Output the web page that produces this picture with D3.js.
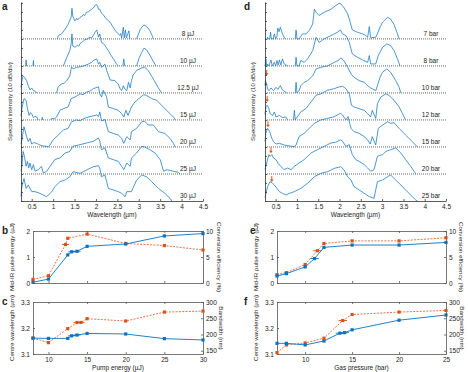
<!DOCTYPE html>
<html>
<head>
<meta charset="utf-8">
<script src="https://cdn.jsdelivr.net/npm/d3@7"></script>
<style>
  body { margin: 0; background: #fff; }
  text { font-family: "Liberation Sans", Arial, sans-serif; fill: #222; }
</style>
</head>
<body>
<svg id="fig" width="468" height="372"></svg>
<script>
// ---- spectra, panel a (pump energy), [wavelength um, dB above strip baseline], null = gap
const pumpLabels = ['8 µJ', '10 µJ', '12.5 µJ', '15 µJ', '20 µJ', '25 µJ', '30 µJ'];
const spec8uJ = [[1.10,0],[1.12,3.7],[1.2,5.6],[1.28,11],[1.35,16],[1.42,24],[1.44,34],[1.46,25],[1.51,20],[1.55,23],[1.57,21],[1.63,24],[1.67,25],[1.7,27],[1.74,26],[1.78,29.6],[1.82,30],[1.86,31.5],[1.9,33],[1.94,34.4],[1.98,37.4],[2.02,38],[2.04,36],[2.06,33],[2.09,33],[2.13,28.5],[2.17,27],[2.21,24],[2.27,21],[2.33,18.5],[2.39,14],[2.44,10],[2.52,5.6],[2.56,3.7],[2.58,6],[2.6,1],[2.64,13],[2.66,1],[2.69,10],[2.71,1],[2.77,9],[2.79,0],[2.8,null],[2.95,0],[2.99,5],[3.03,10],[3.07,13],[3.12,15.5],[3.18,14],[3.25,10],[3.3,5],[3.34,0]];
const spec10uJ = [[0.36,0],[0.37,6.7],[0.38,0],[0.4,null],[0.53,0],[0.54,6],[0.55,0],[0.6,null],[1.24,0],[1.32,9.6],[1.39,17],[1.42,24],[1.44,35.5],[1.46,22],[1.51,20.7],[1.57,23],[1.6,22],[1.63,25],[1.69,27],[1.74,29],[1.8,30],[1.86,32],[1.9,31],[1.94,34],[1.98,37.4],[2.02,40],[2.06,32],[2.09,35.5],[2.13,26],[2.17,25],[2.21,22.6],[2.29,17],[2.35,12],[2.41,7.8],[2.48,2.2],[2.52,0],[2.55,null],[2.63,0],[2.65,7.8],[2.67,0],[2.7,null],[2.95,0],[3.01,9],[3.07,15],[3.12,19.6],[3.18,18],[3.26,12],[3.34,5],[3.4,0]];
const spec12uJ = [[0.25,6],[0.27,13.7],[0.3,19],[0.34,16.7],[0.38,13.7],[0.42,8],[0.46,3.3],[0.5,5.5],[0.54,2.6],[0.58,1.9],[0.62,0],[0.7,null],[1.08,0],[1.12,7],[1.2,10],[1.26,11],[1.32,13.7],[1.39,19],[1.43,29],[1.47,26.7],[1.55,28.5],[1.63,29],[1.71,30],[1.82,32],[1.9,34],[1.94,36],[2.02,37.8],[2.06,32],[2.09,34],[2.13,28.5],[2.21,32],[2.25,25],[2.33,14.4],[2.44,13.7],[2.52,10],[2.56,5],[2.6,2.6],[2.64,8],[2.68,4],[2.72,2.6],[2.76,11.8],[2.8,5.5],[2.83,13.7],[2.87,20],[2.95,25],[3.07,27.8],[3.14,28.5],[3.22,25],[3.34,15.5],[3.46,5.5],[3.53,0]];
const spec15uJ = [[0.25,4],[0.27,12.6],[0.32,23.7],[0.37,21.9],[0.4,12.6],[0.44,5],[0.47,8],[0.5,7],[0.54,2.6],[0.58,4],[0.62,3.3],[0.65,0],[0.7,null],[0.74,0],[0.75,3],[0.76,0],[0.8,null],[0.95,0],[0.96,1.5],[1.04,1.5],[1.08,3.3],[1.16,10.7],[1.24,12.6],[1.35,14.4],[1.42,23.7],[1.51,25.5],[1.63,29],[1.7,28],[1.78,31],[1.86,32],[1.94,34.8],[2.06,36.7],[2.09,29],[2.13,25.5],[2.17,33],[2.25,25.5],[2.29,14.4],[2.41,12.6],[2.52,10.7],[2.6,7],[2.65,3.3],[2.7,10.7],[2.75,5],[2.83,14.4],[2.91,20],[3.03,24.8],[3.11,28],[3.18,27.4],[3.3,23.7],[3.42,21.9],[3.57,14.4],[3.73,7],[3.82,2.6],[3.85,0]];
const spec20uJ = [[0.25,3],[0.27,7.8],[0.32,22.6],[0.35,17],[0.38,11.5],[0.42,5.9],[0.46,9.6],[0.5,3.3],[0.54,4.8],[0.62,4],[0.69,2.2],[0.77,1.1],[0.89,0.4],[0.91,1],[1.0,7.8],[1.12,13.3],[1.24,18.9],[1.35,20.7],[1.43,28],[1.55,30],[1.63,29],[1.71,31.5],[1.86,33.7],[2.02,35.5],[2.06,33.7],[2.09,39],[2.13,29],[2.21,30.4],[2.29,17],[2.41,15],[2.52,13.3],[2.6,9.6],[2.65,4],[2.72,11.5],[2.8,7.8],[2.83,17],[2.95,20.7],[3.07,28],[3.14,28.5],[3.22,24.4],[3.34,24.4],[3.46,17],[3.61,15],[3.73,9.6],[3.81,4],[3.85,0]];
const spec25uJ = [[0.25,3],[0.27,8.5],[0.3,25],[0.33,19.6],[0.37,8.5],[0.4,14],[0.43,6.7],[0.46,12.2],[0.5,4.8],[0.54,10.4],[0.58,3],[0.65,4.8],[0.73,8.5],[0.77,1.1],[0.85,3],[0.93,8.5],[1.04,16],[1.16,17.8],[1.28,23.3],[1.39,25],[1.46,30.7],[1.63,32.6],[1.78,34.4],[1.94,36.3],[2.06,40],[2.09,36.3],[2.13,27],[2.21,28.9],[2.29,17.8],[2.41,15.9],[2.52,14],[2.6,8.5],[2.65,4.8],[2.72,12.2],[2.8,8.5],[2.83,17.8],[2.95,23.3],[3.07,30.7],[3.14,30],[3.26,27],[3.38,23.3],[3.5,15.9],[3.58,3],[3.66,4.8],[3.81,3],[3.92,1.9],[3.96,0]];
const spec30uJ = [[0.25,5],[0.27,15.9],[0.32,25],[0.37,14],[0.42,17.8],[0.5,10.4],[0.58,10.4],[0.69,8.5],[0.85,4.8],[0.97,10.4],[1.04,15.9],[1.16,21.5],[1.28,23.3],[1.39,27],[1.47,32.6],[1.63,30.7],[1.78,34.4],[1.94,38.1],[2.06,39.3],[2.09,36.3],[2.13,27],[2.21,28.9],[2.29,14],[2.41,12.2],[2.52,10.4],[2.6,8.5],[2.68,4.8],[2.72,10.4],[2.83,10.4],[2.95,23.3],[3.07,28.9],[3.18,27],[3.3,21.5],[3.46,14],[3.61,8.5],[3.73,3],[3.77,0]];

// ---- spectra, panel d (gas pressure)
const pressureLabels = ['7 bar', '8 bar', '10 bar', '12 bar', '15 bar', '20 bar', '25 bar'];
const spec7bar = [[0.3,0],[0.31,1.9],[0.33,0],[0.36,0],[0.38,7.4],[0.4,0],[0.44,0],[0.47,5.6],[0.5,0],[0.53,3],[0.55,12],[0.58,8],[0.61,13],[0.63,10],[0.66,5.6],[0.7,1.9],[0.72,0],[0.75,null],[0.96,0],[0.98,10],[1.0,0],[1.05,0],[1.13,5.6],[1.21,5.6],[1.29,9.3],[1.37,16.7],[1.41,33],[1.45,29.6],[1.52,26],[1.64,29.6],[1.8,33],[1.91,37],[1.99,39.6],[2.03,38.9],[2.11,34.4],[2.19,27.8],[2.23,22],[2.3,10],[2.42,7.4],[2.54,5.6],[2.62,3.7],[2.66,1.9],[2.7,13.7],[2.73,1.1],[2.85,1.9],[2.89,5.6],[2.95,13],[3.01,18.5],[3.13,24],[3.2,22],[3.28,16],[3.36,5.6],[3.4,0]];
const spec8bar = [[0.25,0],[0.27,7.8],[0.29,0],[0.31,2],[0.34,0],[0.39,6.7],[0.42,0],[0.47,4],[0.5,0],[0.53,6],[0.56,1],[0.59,6.7],[0.62,1],[0.66,7.8],[0.7,2.2],[0.78,0],[0.8,null],[0.96,0],[0.98,9.6],[1.0,0],[1.05,0],[1.09,6],[1.17,4],[1.25,7.8],[1.37,17],[1.45,31.8],[1.52,26],[1.64,30],[1.8,33.7],[1.95,37.4],[2.02,40],[2.07,35.5],[2.15,33.7],[2.23,26],[2.3,13.3],[2.42,9.6],[2.54,6.7],[2.66,4],[2.7,11.5],[2.73,2.2],[2.85,2.2],[2.91,11.5],[2.97,17],[3.01,20.7],[3.11,24.4],[3.2,22.6],[3.28,17],[3.36,7.8],[3.42,0]];
const spec10bar = [[0.25,8],[0.26,13.7],[0.29,10],[0.31,4],[0.35,2.6],[0.39,5.6],[0.45,2.6],[0.51,6.3],[0.55,4],[0.61,8.1],[0.66,3.3],[0.74,0.7],[0.76,0],[0.8,null],[0.96,0],[0.98,11.8],[1.0,0],[1.05,2.6],[1.09,8],[1.17,11.8],[1.25,13.7],[1.37,19],[1.45,26.7],[1.56,28.5],[1.72,30],[1.88,34],[1.99,36.7],[2.03,38.9],[2.11,35.5],[2.19,28.5],[2.27,21],[2.34,17.4],[2.46,13.7],[2.58,11.8],[2.66,8],[2.73,5.6],[2.85,2.6],[2.89,8],[2.95,17.4],[3.01,23],[3.11,26.7],[3.2,23],[3.32,13.7],[3.4,6.3],[3.44,0]];
const spec12bar = [[0.25,6],[0.27,14.4],[0.3,16.3],[0.34,12.6],[0.37,7],[0.43,5],[0.47,8.9],[0.51,3.3],[0.59,5],[0.66,2.6],[0.74,3.3],[0.78,0],[0.8,null],[0.92,0],[0.94,10.7],[0.96,0],[0.98,1.5],[1.09,8.9],[1.21,12.6],[1.33,20],[1.45,27.4],[1.56,29],[1.72,33],[1.88,34.8],[1.99,36.7],[2.07,37.4],[2.15,34.8],[2.23,29],[2.28,16.3],[2.34,14.4],[2.46,12.6],[2.58,10.7],[2.66,7],[2.73,3.3],[2.77,10.7],[2.85,1.5],[2.89,18],[2.97,25.5],[3.09,29],[3.16,27.4],[3.28,21.9],[3.4,14.4],[3.48,7],[3.55,0]];
const spec15bar = [[0.25,6],[0.27,15.2],[0.31,20.7],[0.36,17],[0.41,9.6],[0.45,5.9],[0.51,3.3],[0.59,4],[0.7,2.2],[0.82,1.1],[0.94,0.4],[0.98,2.2],[1.05,11.5],[1.17,15.2],[1.29,20.7],[1.41,26.3],[1.56,30],[1.72,31.8],[1.88,33.7],[2.02,37.4],[2.07,35.5],[2.15,30],[2.2,33.7],[2.27,20.7],[2.34,17],[2.46,15.2],[2.58,11.5],[2.66,7.8],[2.72,3.3],[2.77,11.5],[2.85,2.2],[2.91,20.7],[3.01,24.4],[3.13,28],[3.2,26.3],[3.28,27],[3.4,20.7],[3.55,13.3],[3.71,5.9],[3.83,0]];
const spec20bar = [[0.25,5],[0.29,12.2],[0.34,21.5],[0.37,19.6],[0.41,21.5],[0.45,17.8],[0.51,16],[0.55,12.2],[0.62,8.5],[0.7,4.8],[0.78,6.7],[0.86,4.8],[0.94,8.5],[1.05,12.2],[1.17,16],[1.33,23.3],[1.48,27],[1.64,30.7],[1.8,34.4],[1.91,35.2],[2.02,38],[2.07,36.3],[2.15,30.7],[2.23,32.6],[2.3,21.5],[2.38,16],[2.46,14],[2.58,10.4],[2.66,6.7],[2.73,3],[2.81,4.8],[2.89,19.6],[3.01,21.5],[3.09,25],[3.2,27],[3.32,28.9],[3.44,23.3],[3.55,16],[3.67,8.5],[3.75,3],[3.79,0]];
const spec25bar = [[0.25,4],[0.31,15.9],[0.37,21.5],[0.43,19.6],[0.47,17.8],[0.53,14],[0.59,10.4],[0.66,8.5],[0.74,6.7],[0.82,8.5],[0.94,10.4],[1.09,14],[1.25,19.6],[1.41,27],[1.56,30.7],[1.72,32.6],[1.88,36.3],[2.03,38.1],[2.11,34.4],[2.19,27],[2.27,23.3],[2.34,16],[2.46,12.2],[2.58,8.5],[2.7,4.8],[2.81,3],[2.89,21.5],[3.01,23.3],[3.13,27],[3.2,28.9],[3.28,25],[3.44,17.8],[3.59,10.4],[3.71,4.8],[3.79,1.1],[3.83,0]];

// orange arrows in d: strip index, wavelength, tip height (dB)
const arrowStrip = [2, 3, 4, 5, 6];
const arrowWl = [0.29, 0.30, 0.32, 0.39, 0.41];
const arrowTip = [19, 20, 22, 23, 21];

const wlTicks = [0.5, 1, 1.5, 2, 2.5, 3, 3.5, 4, 4.5];

// ---- b / c : versus pump energy
const pumpBlueX = [8, 10, 12.5, 13, 13.7, 15, 20, 25, 30];
const pulseEnergyPump = [0.03, 0.15, 1.08, 1.2, 1.22, 1.41, 1.5, 1.81, 1.9];
const pumpRedX = [8, 10, 12.2, 12.5, 15, 20, 25, 30];
const efficiencyPump = [0.7, 1.4, 7.4, 8.6, 9.4, 7.6, 7.2, 6.35];
const pumpCBlueX = [8, 10, 12.5, 13, 13.7, 15, 20, 25, 30];
const centrePump = [3.161, 3.16, 3.16, 3.17, 3.173, 3.179, 3.177, 3.159, 3.154];
const pumpCRedX = [8, 10, 12.5, 13.7, 14.2, 15, 20, 25, 30];
const bandwidthPump = [189, 175, 218, 237, 237, 248.6, 241.5, 269, 272];

// ---- e / f : versus gas pressure
const presBlueX = [7, 8, 10, 11, 12, 15, 20, 25];
const pulseEnergyPres = [0.27, 0.36, 0.62, 0.94, 1.37, 1.46, 1.46, 1.56];
const presRedX = [7, 8, 10, 11.3, 12, 15, 20, 25];
const efficiencyPres = [1.6, 2.0, 3.56, 6.2, 7.6, 8.1, 8.1, 8.7];
const presFBlueX = [7, 8, 10, 12, 13.7, 14.2, 15, 20, 25];
const centrePres = [3.141, 3.141, 3.135, 3.150, 3.180, 3.182, 3.193, 3.23, 3.25];
const presFRedX = [7, 8, 10, 12, 14, 15, 20, 25];
const bandwidthPres = [144, 168, 174, 188.6, 243, 261.5, 269, 274];

const BLUE = '#0a72c0';
const RED = '#d95319';
const svg = d3.select('#fig');

function spectraPanel(c) {
    const g = svg.append('g');
    const x = d3.scaleLinear().domain([0.25, 4.5]).range([c.left, c.right]);
    const y = d3.scaleLinear().domain([0, 221]).range([c.bottom, c.top]);

    c.spectra.forEach((s, i) => {
        const off = (6 - i) * 30;
        if (i < 6) {
            g.append('line')
                .attr('x1', c.left).attr('x2', c.right)
                .attr('y1', y(off)).attr('y2', y(off))
                .attr('stroke', '#444').attr('stroke-width', 0.8)
                .attr('stroke-dasharray', '1,1');
        }
        const line = d3.line()
            .defined(d => d[1] !== null)
            .x(d => x(d[0]))
            .y(d => y(off + d[1]));
        g.append('path').attr('d', line(s))
            .attr('fill', 'none').attr('stroke', '#1f7cc6')
            .attr('stroke-width', 0.8).attr('stroke-linejoin', 'round');
        g.append('text')
            .attr('x', c.labelX).attr('y', y(off) - 3)
            .attr('text-anchor', 'middle').attr('font-size', 6.5)
            .text(c.labels[i]);
    });

    if (c.arrows) {
        c.arrows.strip.forEach((si, k) => {
            const off = (6 - si) * 30;
            const ax = x(c.arrows.wl[k]);
            const ay = y(off + c.arrows.tip[k]);
            g.append('line').attr('x1', ax).attr('x2', ax)
                .attr('y1', ay - 6).attr('y2', ay - 2)
                .attr('stroke', RED).attr('stroke-width', 1);
            g.append('path')
                .attr('d', `M${ax - 1.8},${ay - 2.5}L${ax + 1.8},${ay - 2.5}L${ax},${ay}Z`)
                .attr('fill', RED);
        });
    }

    const xAxis = d3.axisBottom(x).tickValues(wlTicks)
        .tickSizeInner(-2).tickSizeOuter(0).tickPadding(3)
        .tickFormat(d => d);
    const gx = g.append('g').attr('transform', `translate(0,${c.bottom})`).call(xAxis);
    const yAxis = d3.axisLeft(y).tickValues(d3.range(0, 221, 10))
        .tickSizeInner(-2).tickSizeOuter(0).tickFormat('');
    const gy = g.append('g').attr('transform', `translate(${c.left},0)`).call(yAxis);
    [gx, gy].forEach(a => {
        a.selectAll('path,line').attr('stroke', '#333').attr('stroke-width', 0.8);
        a.selectAll('text').attr('font-size', 6.5).attr('font-family', null);
    });

    g.append('text')
        .attr('x', (c.left + c.right) / 2).attr('y', c.bottom + 16)
        .attr('text-anchor', 'middle').attr('font-size', 6.5)
        .text('Wavelength (µm)');
    g.append('text')
        .attr('transform', `translate(${c.titleX},${(c.top + c.bottom) / 2}) rotate(-90)`)
        .attr('text-anchor', 'middle').attr('font-size', 6.2)
        .text('Spectral intensity (10 dB/div)');
    g.append('text').attr('x', c.letterX).attr('y', 10)
        .attr('font-size', 10).attr('font-weight', 'bold').text(c.letter);
}

function dataPanel(c) {
    const g = svg.append('g');
    const x = d3.scaleLinear().domain(c.xDom).range([c.left, c.right]);
    const yL = d3.scaleLinear().domain(c.yLDom).range([c.bottom, c.top]);
    const yR = d3.scaleLinear().domain(c.yRDom).range([c.bottom, c.top]);

    const axes = [];
    axes.push(g.append('g').attr('transform', `translate(0,${c.bottom})`)
        .call(d3.axisBottom(x).tickValues(c.xTicks).tickSizeInner(-2).tickSizeOuter(0)
            .tickPadding(3).tickFormat(c.showX ? (d => d) : '')));
    axes.push(g.append('g').attr('transform', `translate(0,${c.top})`)
        .call(d3.axisTop(x).tickValues(c.xTicks).tickSizeInner(-2).tickSizeOuter(0).tickFormat('')));
    axes.push(g.append('g').attr('transform', `translate(${c.left},0)`)
        .call(d3.axisLeft(yL).tickValues(c.yLTicks).tickSizeInner(-2).tickSizeOuter(0)
            .tickPadding(3).tickFormat(c.yLFormat)));
    axes.push(g.append('g').attr('transform', `translate(${c.right},0)`)
        .call(d3.axisRight(yR).tickValues(c.yRTicks).tickSizeInner(-2).tickSizeOuter(0)
            .tickPadding(3).tickFormat(d => d)));
    axes.forEach(a => {
        a.selectAll('path,line').attr('stroke', '#555').attr('stroke-width', 0.8);
        a.selectAll('text').attr('font-size', 6.5).attr('font-family', null);
    });

    function series(xs, ys, yScale, color, dashed, errIdx) {
        const pts = xs.map((v, i) => [v, ys[i]]);
        g.append('path')
            .attr('d', d3.line().x(d => x(d[0])).y(d => yScale(d[1]))(pts))
            .attr('fill', 'none').attr('stroke', color)
            .attr('stroke-width', dashed ? 0.8 : 0.9)
            .attr('stroke-dasharray', dashed ? '2,1.3' : null);
        errIdx.forEach(i => {
            g.append('line')
                .attr('x1', x(pts[i][0] - 0.45)).attr('x2', x(pts[i][0] + 0.45))
                .attr('y1', yScale(pts[i][1])).attr('y2', yScale(pts[i][1]))
                .attr('stroke', color).attr('stroke-width', 0.9);
        });
        g.selectAll(null).data(pts).enter().append('rect')
            .attr('x', d => x(d[0]) - 1.6).attr('y', d => yScale(d[1]) - 1.6)
            .attr('width', 3.2).attr('height', 3.2).attr('fill', color);
    }
    series(c.redX, c.redY, yR, RED, true, c.redErr);
    series(c.blueX, c.blueY, yL, BLUE, false, c.blueErr);

    const midY = (c.top + c.bottom) / 2;
    g.append('text')
        .attr('transform', `translate(${c.left - 19},${midY}) rotate(-90)`)
        .attr('text-anchor', 'middle').attr('font-size', 6.2).text(c.leftTitle);
    g.append('text')
        .attr('transform', `translate(${c.right + c.rightTitleOff},${midY}) rotate(90)`)
        .attr('text-anchor', 'middle').attr('font-size', 6.2).text(c.rightTitle);
    if (c.xTitle) {
        g.append('text').attr('x', (c.left + c.right) / 2).attr('y', c.bottom + 16)
            .attr('text-anchor', 'middle').attr('font-size', 6.5).text(c.xTitle);
    }
    g.append('text').attr('x', c.letterX).attr('y', c.top + 3)
        .attr('font-size', 10).attr('font-weight', 'bold').text(c.letter);
}

spectraPanel({
    left: 21, right: 203, top: 2, bottom: 201, letter: 'a', letterX: 2, titleX: 12,
    labelX: 188, labels: pumpLabels,
    spectra: [spec8uJ, spec10uJ, spec12uJ, spec15uJ, spec20uJ, spec25uJ, spec30uJ]
});
spectraPanel({
    left: 265, right: 446, top: 2, bottom: 201, letter: 'd', letterX: 244, titleX: 255,
    labelX: 431, labels: pressureLabels,
    spectra: [spec7bar, spec8bar, spec10bar, spec12bar, spec15bar, spec20bar, spec25bar],
    arrows: { strip: arrowStrip, wl: arrowWl, tip: arrowTip }
});

dataPanel({
    left: 33, right: 203, top: 231, bottom: 283, letter: 'b', letterX: 2,
    xDom: [8, 30], xTicks: [10, 15, 20, 25, 30], showX: false,
    yLDom: [0, 2], yLTicks: [0, 1, 2], yLFormat: d => d,
    yRDom: [0, 10], yRTicks: [0, 5, 10],
    blueX: pumpBlueX, blueY: pulseEnergyPump, blueErr: [3, 4],
    redX: pumpRedX, redY: efficiencyPump, redErr: [2],
    leftTitle: 'Mid-IR pulse energy (µJ)', rightTitle: 'Conversion efficiency (%)', rightTitleOff: 14
});
dataPanel({
    left: 33, right: 203, top: 302, bottom: 354, letter: 'c', letterX: 2,
    xDom: [8, 30], xTicks: [10, 15, 20, 25, 30], showX: true, xTitle: 'Pump energy (µJ)',
    yLDom: [3.1, 3.3], yLTicks: [3.1, 3.2, 3.3], yLFormat: d3.format('.1f'),
    yRDom: [140, 300], yRTicks: [150, 200, 250, 300],
    blueX: pumpCBlueX, blueY: centrePump, blueErr: [3, 4],
    redX: pumpCRedX, redY: bandwidthPump, redErr: [3, 4],
    leftTitle: 'Centre wavelength (µm)', rightTitle: 'Bandwidth (nm)', rightTitleOff: 16
});
dataPanel({
    left: 277, right: 446, top: 231, bottom: 283, letter: 'e', letterX: 250,
    xDom: [7, 25], xTicks: [10, 15, 20, 25], showX: false,
    yLDom: [0, 2], yLTicks: [0, 1, 2], yLFormat: d => d,
    yRDom: [0, 10], yRTicks: [0, 5, 10],
    blueX: presBlueX, blueY: pulseEnergyPres, blueErr: [3],
    redX: presRedX, redY: efficiencyPres, redErr: [3],
    leftTitle: 'Mid-IR pulse energy (µJ)', rightTitle: 'Conversion efficiency (%)', rightTitleOff: 13
});
dataPanel({
    left: 277, right: 446, top: 302, bottom: 354, letter: 'f', letterX: 244,
    xDom: [7, 25], xTicks: [10, 15, 20, 25], showX: true, xTitle: 'Gas pressure (bar)',
    yLDom: [3.1, 3.3], yLTicks: [3.1, 3.2, 3.3], yLFormat: d3.format('.1f'),
    yRDom: [140, 300], yRTicks: [150, 200, 250, 300],
    blueX: presFBlueX, blueY: centrePres, blueErr: [4, 5],
    redX: presFRedX, redY: bandwidthPres, redErr: [4],
    leftTitle: 'Centre wavelength (µm)', rightTitle: 'Bandwidth (nm)', rightTitleOff: 14
});
</script>
</body>
</html>
